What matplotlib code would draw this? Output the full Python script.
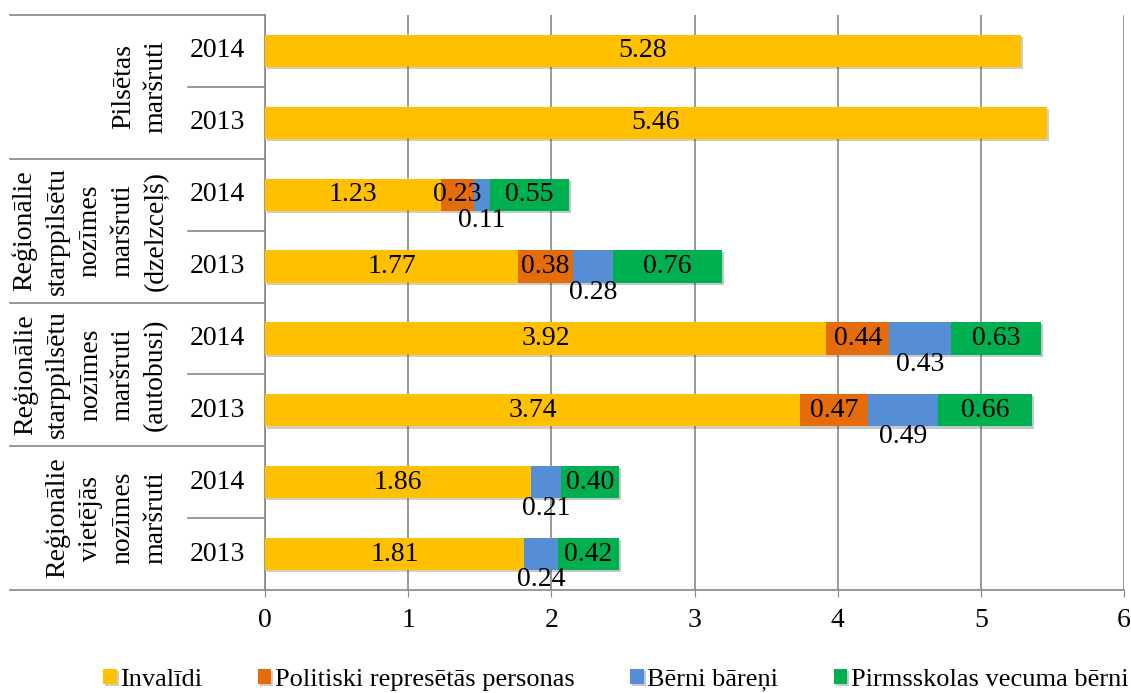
import matplotlib

matplotlib.use("Agg")
import matplotlib.pyplot as plt
import matplotlib.patheffects as pe
from matplotlib.transforms import blended_transform_factory

plt.rcParams["font.family"] = ["Liberation Serif", "DejaVu Serif"]

groups = [
    "Pilsētas\nmaršruti",
    "Reģionālie\nstarppilsētu\nnozīmes\nmaršruti\n(dzelzceļš)",
    "Reģionālie\nstarppilsētu\nnozīmes\nmaršruti\n(autobusi)",
    "Reģionālie\nvietējās\nnozīmes\nmaršruti",
]
years = ["2014", "2013"] * 4
series = ["Invalīdi", "Politiski represētās personas", "Bērni bāreņi", "Pirmsskolas vecuma bērni"]
colors = ["#FFC000", "#E46C0A", "#558ED5", "#00B050"]

invalidi = [5.28, 5.46, 1.23, 1.77, 3.92, 3.74, 1.86, 1.81]
represetie = [0, 0, 0.23, 0.38, 0.44, 0.47, 0, 0]
bareni = [0, 0, 0.11, 0.28, 0.43, 0.49, 0.21, 0.24]
pirmsskolas = [0, 0, 0.55, 0.76, 0.63, 0.66, 0.40, 0.42]
values = [invalidi, represetie, bareni, pirmsskolas]

FS = 20

fig = plt.figure(figsize=(11.31, 6.93), dpi=100)
ax = fig.add_axes([265 / 1131, 103 / 693, 859 / 1131, 575 / 693])

ypos = list(range(len(years)))
left = [0.0] * len(years)
shadow = [pe.SimplePatchShadow(offset=(1.5, -1.5), alpha=0.25), pe.Normal()]
for name, vals, col in zip(series, values, colors):
    ax.barh(ypos, vals, left=left, height=0.45, color=col, label=name,
            path_effects=shadow, zorder=3)
    for i, v in enumerate(vals):
        if v <= 0:
            continue
        cx = left[i] + v / 2
        if name == "Bērni bāreņi":
            ax.text(cx, i + 0.36, f"{v:.2f}", ha="center", va="center", fontsize=FS, zorder=5)
        else:
            ax.text(cx, i, f"{v:.2f}", ha="center", va="center", fontsize=FS, zorder=5)
    left = [l + v for l, v in zip(left, vals)]

ax.set_xlim(0, 6)
ax.set_ylim(7.5, -0.5)
ax.set_yticks([])
ax.set_xticks(range(7))
ax.tick_params(axis="x", labelsize=FS, pad=8, length=5, color="#888888")
ax.grid(axis="x", color="#888888", linewidth=1.2, zorder=0)
for s in ["top", "right"]:
    ax.spines[s].set_visible(False)
for s in ["left", "bottom"]:
    ax.spines[s].set_color("#888888")
    ax.spines[s].set_linewidth(1.2)

# category label area to the left of the axes
tr = blended_transform_factory(ax.transAxes, ax.transData)
x_far = (10 - 265) / 859
x_year = (188 - 265) / 859
for b in [-0.5, 1.5, 3.5, 5.5, 7.5]:
    ax.plot([x_far, 0], [b, b], transform=tr, color="#888888", lw=1.2, clip_on=False)
for b in [0.5, 2.5, 4.5, 6.5]:
    ax.plot([x_year, 0], [b, b], transform=tr, color="#888888", lw=1.2, clip_on=False)
for i, y in enumerate(years):
    ax.text((217 - 265) / 859, i, y, transform=tr, ha="center", va="center", fontsize=FS)
group_x = [(140 - 265) / 859, (90 - 265) / 859, (90 - 265) / 859, (106 - 265) / 859]
for g, (label, gx) in enumerate(zip(groups, group_x)):
    ax.text(gx, 2 * g + 0.5, label, transform=tr, rotation=90, ha="center", va="center",
            fontsize=FS, linespacing=1.4, multialignment="center")

ax.legend(loc="center", bbox_to_anchor=(616 / 1131, 13 / 693), bbox_transform=fig.transFigure,
          ncol=4, frameon=False, fontsize=19, handlelength=0.5, handleheight=0.5,
          handletextpad=0.15, columnspacing=2.1)

plt.savefig("out.png", dpi=100)
